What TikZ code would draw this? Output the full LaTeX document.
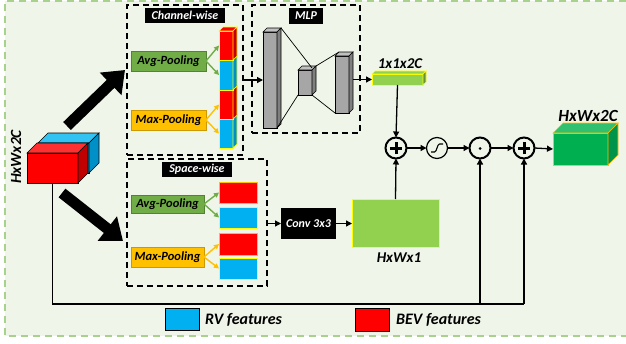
\documentclass[tikz,border=0pt]{standalone}
\usepackage{fontspec}
\setmainfont{Carlito}
\usetikzlibrary{arrows.meta,calc}
\definecolor{bg}{HTML}{EFF6E9}
\definecolor{frameg}{HTML}{A9D18E}
\definecolor{myred}{HTML}{FF0000}
\definecolor{darkred}{HTML}{C00000}
\definecolor{redtop}{HTML}{FF3030}
\definecolor{myblue}{HTML}{00B0F0}
\definecolor{bluetop}{HTML}{33C3F3}
\definecolor{blueside}{HTML}{0090C8}
\definecolor{litegreen}{HTML}{92D050}
\definecolor{avgg}{HTML}{70AD47}
\definecolor{maxo}{HTML}{FFC000}
\definecolor{outg}{HTML}{00B050}
\definecolor{outtop}{HTML}{30C070}
\definecolor{outside}{HTML}{00944A}
\definecolor{yel}{HTML}{FFFF00}
\definecolor{barg}{HTML}{A6A6A6}
\definecolor{bartop}{HTML}{C0C0C0}
\definecolor{barside}{HTML}{7F7F7F}
\newcommand\drawdepth[5]{%
  \filldraw[fill=#3,draw=#5,line width=0.6pt] (#1.north west) -- ($(#1.north west)+(#2,-#2)$) -- ($(#1.north east)+(#2,-#2)$) -- (#1.north east) -- cycle;
  \filldraw[fill=#4,draw=#5,line width=0.6pt] (#1.north east) -- ($(#1.north east)+(#2,-#2)$) -- ($(#1.south east)+(#2,-#2)$) -- (#1.south east) -- cycle;}
\tikzset{
  box/.style={rectangle, inner sep=0pt, outer sep=0pt},
  dbox/.style={box, draw=black, line width=1.4pt, dash pattern=on 6pt off 4pt},
  tagbox/.style={box, fill=black, text=white, font=\fontsize{12}{12}\selectfont\bfseries\itshape},
  avgbox/.style={box, fill=avgg, draw=avgg!75!black, line width=0.5pt, font=\fontsize{12.5}{12.5}\selectfont\bfseries\itshape},
  maxbox/.style={box, fill=maxo, draw=maxo!80!black, line width=0.5pt, font=\fontsize{12.5}{12.5}\selectfont\bfseries\itshape},
  redcell/.style={box, fill=myred, draw=yel, line width=0.8pt},
  bluecell/.style={box, fill=myblue, draw=yel, line width=0.8pt},
  redsq/.style={box, fill=myred, draw=maxo, line width=0.8pt},
  bluesq/.style={box, fill=myblue, draw=yel, line width=0.8pt},
  grayb/.style={box, fill=barg, draw=black, line width=0.6pt, minimum width=14pt},
  opc/.style={circle, draw=black, line width=2pt, minimum size=21pt, inner sep=0pt, outer sep=0pt},
  conn/.style={black, line width=1.3pt, -{Triangle[length=6pt,width=6pt]}},
  garrow/.style={avgg, line width=1.4pt, -{Triangle[length=5pt,width=5pt]}},
  oarrow/.style={maxo, line width=1.4pt, -{Triangle[length=5pt,width=5pt]}},
  bigarrow/.style={black, line width=11pt, -{Triangle[length=20pt,width=30pt]}},
  lbl/.style={font=\bfseries\itshape, inner sep=0pt}
}
\begin{document}
\begin{tikzpicture}[x=1pt,y=-1pt]
\useasboundingbox (0,0) rectangle (626,343);
\fill[bg] (5,1) rectangle (626,336);
\draw[frameg, line width=1.6pt, dash pattern=on 7pt off 5pt] (626,1) -- (5,1) -- (5,336) -- (626,336);

% dashed group boxes
\node[dbox, minimum width=116pt, minimum height=150pt] (chbox) at (185,80) {};
\node[dbox, minimum width=108pt, minimum height=128pt] (mlpbox) at (306,69) {};
\node[dbox, minimum width=140pt, minimum height=127pt] (spbox) at (197,222.5) {};
\node[tagbox, minimum width=80pt, minimum height=15pt] (cht) at (185,15.5) {Channel-wise};
\node[tagbox, minimum width=34pt, minimum height=16pt] (mlpt) at (306,16) {MLP};
\node[tagbox, minimum width=70pt, minimum height=15pt] (spt) at (197,169.5) {Space-wise};

% left input cube
\node[box, fill=myblue, draw=black, line width=0.5pt, minimum width=51pt, minimum height=30pt] (lcb) at (63.5,158) {};
\drawdepth{lcb}{10}{bluetop}{blueside}{black}
\node[box, fill=myred, draw=black, line width=0.5pt, minimum width=51pt, minimum height=30pt] (lc) at (52.5,168) {};
\drawdepth{lc}{10}{redtop}{darkred}{black}
\node[lbl, rotate=90, font=\fontsize{15.5}{15.5}\selectfont\bfseries\itshape] (inlbl) at (16,157) {HxWx2C};

% big arrows
\coordinate (ba1s) at (67,126);
\coordinate (ba1e) at (125,70);
\coordinate (ba2s) at (62,193);
\coordinate (ba2e) at (123,241);
\draw[bigarrow] (ba1s) -- (ba1e);
\draw[bigarrow] (ba2s) -- (ba2e);

% channel-wise content
\node[avgbox, minimum width=75pt, minimum height=20pt] (ca) at (168.5,61) {Avg-Pooling};
\node[maxbox, minimum width=75pt, minimum height=20pt] (cm) at (168.5,120) {Max-Pooling};
\node[bluecell, minimum width=14pt, minimum height=29pt] (c4) at (226,133.5) {};
\drawdepth{c4}{4}{myblue}{blueside}{yel}
\node[redcell, minimum width=14pt, minimum height=29pt] (c3) at (226,104.5) {};
\drawdepth{c3}{4}{myred}{darkred}{yel}
\node[bluecell, minimum width=14pt, minimum height=30pt] (c2) at (226,75) {};
\drawdepth{c2}{4}{myblue}{blueside}{yel}
\node[redcell, minimum width=14pt, minimum height=29pt] (c1) at (226,45.5) {};
\drawdepth{c1}{4}{myred}{darkred}{yel}
\draw[garrow] (ca.east) -- (c1.west);
\draw[garrow] (ca.east) -- (c2.west);
\draw[oarrow] (cm.east) -- (c3.west);
\draw[oarrow] (cm.east) -- (c4.west);

% MLP
\node[grayb, minimum height=96pt] (b1) at (270,80) {};
\drawdepth{b1}{4}{bartop}{barside}{black}
\node[grayb, minimum height=25pt] (b2) at (305,82.5) {};
\drawdepth{b2}{4}{bartop}{barside}{black}
\node[grayb, minimum height=57pt] (b3) at (342,84.5) {};
\drawdepth{b3}{4}{bartop}{barside}{black}
\draw[line width=0.7pt] ($(b1.north east)+(4,-4)$) -- ($(b2.north east)+(0,-2)$);
\draw[line width=0.7pt] (b1.south east) -- (b2.south west);
\draw[line width=0.7pt] ($(b2.north east)+(4,-4)$) -- ($(b3.north west)+(4,-4)$);
\draw[line width=0.7pt] (b2.south east) -- (b3.south west);
\draw[conn] (chbox.east) -- (b1.west);

% 1x1x2C bar
\node[box, fill=litegreen, draw=yel, line width=0.8pt, minimum width=51pt, minimum height=11pt] (gbar) at (397.5,79.5) {};
\drawdepth{gbar}{3}{litegreen}{litegreen!70!black}{yel}
\node[lbl, font=\fontsize{15}{15}\selectfont\bfseries\itshape] (gbl) at (400,64) {1x1x2C};
\draw[conn] ([xshift=4pt]b3.east |- gbar.west) -- (gbar.west);

% space-wise content
\node[avgbox, minimum width=73pt, minimum height=18pt] (sa) at (167.5,204) {Avg-Pooling};
\node[maxbox, minimum width=73pt, minimum height=20pt] (sm) at (167.5,257) {Max-Pooling};
\node[redsq, minimum width=38pt, minimum height=21pt] (s1) at (238,192.5) {};
\node[bluesq, minimum width=38pt, minimum height=21pt] (s2) at (238,217.5) {};
\node[redsq, minimum width=38pt, minimum height=22pt] (s3) at (238,244) {};
\node[bluesq, minimum width=38pt, minimum height=21pt] (s4) at (238,268.5) {};
\draw[garrow] (sa.east) -- (s1.west);
\draw[garrow] (sa.east) -- (s2.west);
\draw[oarrow] (sm.east) -- (s3.west);
\draw[oarrow] (sm.east) -- (s4.west);

\node[tagbox, minimum width=55pt, minimum height=31pt, font=\fontsize{12}{12}\selectfont\bfseries\itshape] (conv) at (308.5,223.5) {Conv 3x3};
\node[box, fill=litegreen, draw=yel, line width=0.8pt, minimum width=87pt, minimum height=48pt] (hx1) at (395.5,223) {};
\node[lbl, font=\fontsize{15}{15}\selectfont\bfseries\itshape] (hx1l) at (399,258) {HxWx1};
\draw[conn] (spbox.east |- conv.west) -- (conv.west);
\draw[conn] (conv.east) -- (hx1.west |- conv.east);

% operators
\node[opc] (p1) at (396,148) {};
\node[opc, line width=1.2pt] (sg) at (437,148) {};
\node[opc] (dt) at (480,148) {};
\node[opc] (p2) at (524,148) {};
\draw[line width=3pt] ($(p1)+(-6,0)$) -- ($(p1)+(6,0)$);
\draw[line width=3pt] ($(p1)+(0,-6)$) -- ($(p1)+(0,6)$);
\draw[line width=3pt] ($(p2)+(-6,0)$) -- ($(p2)+(6,0)$);
\draw[line width=3pt] ($(p2)+(0,-6)$) -- ($(p2)+(0,6)$);
\fill ($(dt)+(0,0.5)$) circle (1.5pt);
\draw[line width=1.1pt] ($(sg)+(-6,4)$) -- ($(sg)+(-2.5,4)$) .. controls ($(sg)+(0,4)$) and ($(sg)+(0,-4)$) .. ($(sg)+(2.5,-4)$) -- ($(sg)+(6,-4)$);

% output cube
\node[box, fill=outg, draw=maxo, line width=0.8pt, minimum width=55pt, minimum height=32pt] (out) at (580.5,149) {};
\drawdepth{out}{10}{outtop}{outside}{maxo}
\node[lbl, font=\fontsize{17}{17}\selectfont\bfseries\itshape] (outl) at (588,116) {HxWx2C};

% connectors
\draw[conn] (gbar.south) -- (p1.north);
\draw[conn] (hx1.north) -- (p1.south);
\draw[conn] (p1.east) -- (sg.west);
\draw[conn] (sg.east) -- (dt.west);
\draw[conn] (dt.east) -- (p2.west);
\draw[conn] (p2.east) -- (out.west);
\coordinate (corner) at (52.5,304);
\draw[line width=1.3pt] (lc.south) -- (corner) -- (corner -| p2);
\draw[conn] (corner -| dt) -- (dt.south);
\draw[conn] (corner -| p2) -- (p2.south);

% legend
\node[box, fill=myblue, draw=black, line width=0.7pt, minimum width=34pt, minimum height=22pt] (lgb) at (182,319) {};
\node[lbl, anchor=west, font=\fontsize{16}{16}\selectfont\bfseries\itshape] (lgbt) at (205,320) {RV features};
\node[box, fill=myred, draw=black, line width=0.7pt, minimum width=34pt, minimum height=23pt] (lgr) at (372,319.5) {};
\node[lbl, anchor=west, font=\fontsize{16}{16}\selectfont\bfseries\itshape] (lgrt) at (396,320) {BEV features};
\end{tikzpicture}
\end{document}
